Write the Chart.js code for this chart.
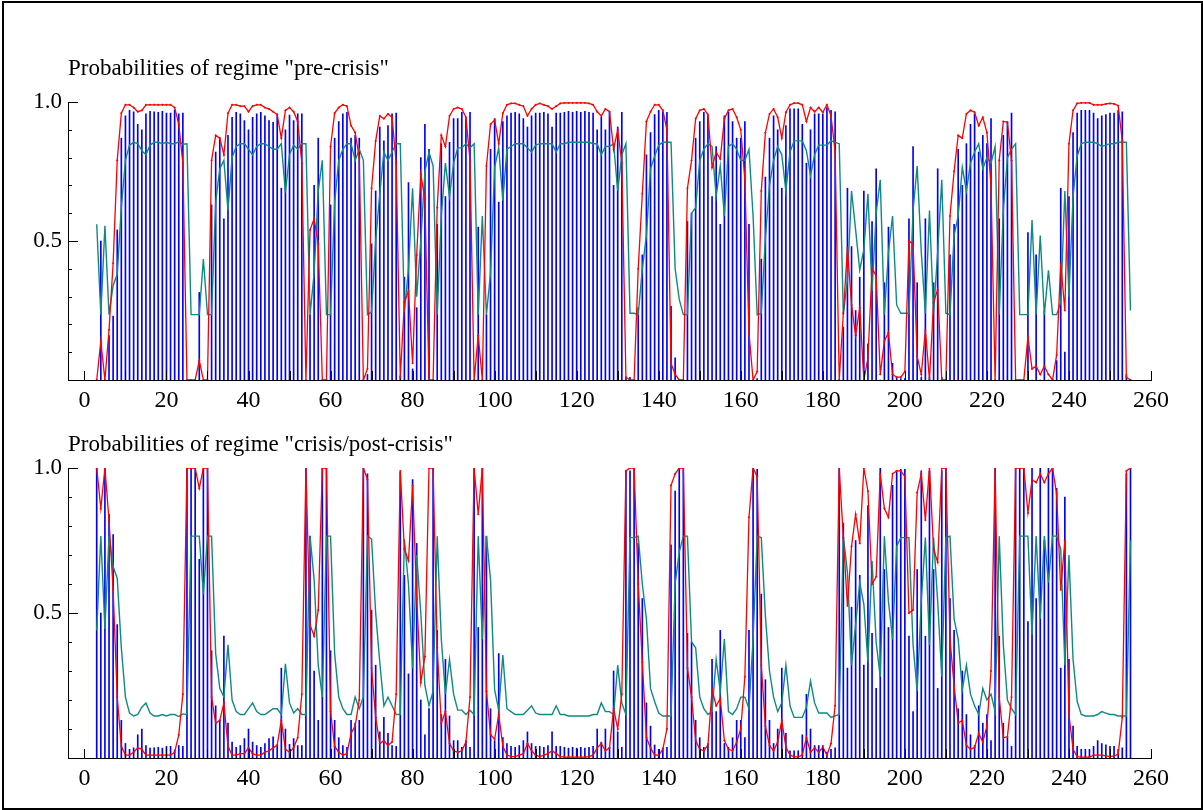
<!DOCTYPE html>
<html>
<head>
<meta charset="utf-8">
<script src="https://cdn.jsdelivr.net/npm/chart.js@4.4.1/dist/chart.umd.min.js"></script>
<style>
  html, body { margin: 0; padding: 0; background: #fff; }
  #frame { position: absolute; left: 2px; top: 1px; width: 1197px; height: 805px; border: 2px solid #000; }
  canvas { position: absolute; left: 0; }
</style>
</head>
<body>
<canvas id="preCrisis" width="1203" height="420" style="top:0px"></canvas>
<canvas id="postCrisis" width="1203" height="390" style="top:420px"></canvas>
<div id="frame"></div>
<script>
// observations 3..255
const obs = Array.from({ length: 253 }, (_, i) => i + 3);

const xTickStep = 20;
const yTickLabels = ["0.5", "1.0"];

const titlePre = 'Probabilities of regime "pre-crisis"';
const titlePost = 'Probabilities of regime "crisis/post-crisis"';

// regime "pre-crisis"
const smoothedPre = [
  0.00, 0.14, 0.00, 0.18, 0.42, 0.79, 0.96, 0.99, 0.99, 0.98,
  0.965, 0.97, 0.99, 0.99, 0.99, 0.99, 0.99, 0.99, 0.99, 0.98,
  0.92, 0.78, 0.00, 0.00, 0.00, 0.07, 0.00, 0.00, 0.79, 0.88,
  0.87, 0.81, 0.96, 0.99, 0.99, 0.985, 0.985, 0.965, 0.985, 0.99,
  0.99, 0.98, 0.975, 0.965, 0.955, 0.87, 0.97, 0.98, 0.965, 0.93,
  0.78, 0.00, 0.54, 0.58, 0.49, 0.00, 0.00, 0.84, 0.96, 0.98,
  0.99, 0.985, 0.915, 0.89, 0.80, 0.00, 0.04, 0.69, 0.86, 0.95,
  0.94, 0.957, 0.945, 0.78, 0.01, 0.28, 0.32, 0.06, 0.45, 0.74,
  0.65, 0.00, 0.00, 0.62, 0.88, 0.84, 0.95, 0.975, 0.98, 0.975,
  0.945, 0.79, 0.00, 0.16, 0.00, 0.77, 0.92, 0.935, 0.85, 0.96,
  0.99, 0.995, 0.995, 0.99, 0.985, 0.95, 0.975, 0.99, 0.995, 0.99,
  0.985, 0.975, 0.985, 0.995, 0.997, 0.997, 0.997, 0.997, 0.997, 0.997,
  0.995, 0.99, 0.965, 0.95, 0.975, 0.965, 0.83, 0.90, 0.78, 0.01,
  0.00, 0.00, 0.40, 0.67, 0.93, 0.965, 0.99, 0.99, 0.97, 0.90,
  0.06, 0.02, 0.00, 0.00, 0.69, 0.79, 0.94, 0.97, 0.975, 0.955,
  0.765, 0.82, 0.795, 0.94, 0.97, 0.975, 0.945, 0.90, 0.72, 0.17,
  0.00, 0.03, 0.68, 0.89, 0.957, 0.975, 0.945, 0.87, 0.963, 0.99,
  0.996, 0.996, 0.99, 0.93, 0.98, 0.965, 0.98, 0.963, 0.99, 0.95,
  0.82, 0.00, 0.24, 0.475, 0.27, 0.16, 0.26, 0.00, 0.08, 0.40,
  0.375, 0.02, 0.14, 0.17, 0.02, 0.01, 0.01, 0.03, 0.50, 0.49,
  0.085, 0.02, 0.18, 0.00, 0.28, 0.325, 0.00, 0.00, 0.59, 0.75,
  0.88, 0.87, 0.957, 0.97, 0.963, 0.915, 0.945, 0.89, 0.70, 0.00,
  0.79, 0.93, 0.927, 0.79, 0.00, 0.00, 0.00, 0.155, 0.04, 0.05,
  0.02, 0.05, 0.02, 0.00, 0.09, 0.42, 0.25, 0.85, 0.97, 0.995,
  0.997, 0.997, 0.997, 0.99, 0.99, 0.99, 0.993, 0.995, 0.993, 0.987,
  0.86, 0.01, 0.00
];
const predictedPre = [
  0.56, 0.235, 0.555, 0.235, 0.34, 0.38, 0.62, 0.79, 0.845, 0.855,
  0.85, 0.825, 0.81, 0.845, 0.855, 0.855, 0.85, 0.855, 0.85, 0.85,
  0.857, 0.848, 0.85, 0.235, 0.235, 0.235, 0.435, 0.235, 0.235, 0.64,
  0.76, 0.79, 0.61, 0.80, 0.84, 0.85, 0.85, 0.83, 0.81, 0.84,
  0.85, 0.85, 0.84, 0.83, 0.83, 0.85, 0.675, 0.81, 0.845, 0.83,
  0.85, 0.85, 0.235, 0.385, 0.68, 0.79, 0.235, 0.235, 0.64, 0.79,
  0.83, 0.85, 0.85, 0.79, 0.83, 0.79, 0.235, 0.245, 0.50, 0.67,
  0.82, 0.79, 0.82, 0.85, 0.85, 0.245, 0.40, 0.69, 0.30, 0.50,
  0.75, 0.82, 0.77, 0.235, 0.59, 0.78, 0.66, 0.78, 0.835, 0.835,
  0.85, 0.835, 0.85, 0.235, 0.59, 0.235, 0.385, 0.765, 0.835, 0.645,
  0.83, 0.84, 0.85, 0.85, 0.85, 0.835, 0.82, 0.845, 0.85, 0.85,
  0.85, 0.85, 0.82, 0.85, 0.85, 0.855, 0.855, 0.855, 0.855, 0.855,
  0.855, 0.85, 0.85, 0.81, 0.84, 0.84, 0.85, 0.68, 0.81, 0.85,
  0.24, 0.24, 0.235, 0.40, 0.52, 0.76, 0.805, 0.845, 0.855, 0.855,
  0.855, 0.40, 0.29, 0.235, 0.235, 0.60, 0.62, 0.79, 0.83, 0.85,
  0.84, 0.66, 0.77, 0.59, 0.84, 0.85, 0.83, 0.79, 0.79, 0.83,
  0.59, 0.235, 0.24, 0.51, 0.70, 0.79, 0.84, 0.81, 0.68, 0.82,
  0.86, 0.86, 0.86, 0.825, 0.735, 0.81, 0.845, 0.845, 0.845, 0.86,
  0.855, 0.85, 0.235, 0.36, 0.68, 0.54, 0.395, 0.47, 0.67, 0.32,
  0.60, 0.72, 0.235, 0.46, 0.59, 0.27, 0.24, 0.24, 0.24, 0.61,
  0.77, 0.46, 0.24, 0.61, 0.24, 0.46, 0.72, 0.24, 0.235, 0.52,
  0.59, 0.765, 0.68, 0.78, 0.82, 0.85, 0.76, 0.80, 0.78, 0.84,
  0.235, 0.61, 0.80, 0.83, 0.85, 0.235, 0.235, 0.235, 0.575, 0.235,
  0.52, 0.235, 0.395, 0.235, 0.235, 0.28, 0.68, 0.30, 0.66, 0.805,
  0.85, 0.855, 0.855, 0.855, 0.85, 0.84, 0.845, 0.85, 0.85, 0.855,
  0.855, 0.855, 0.25
];
const filteredPre = [
  0.00, 0.50, 0.00, 0.16, 0.23, 0.54, 0.87, 0.95, 0.97, 0.965,
  0.92, 0.90, 0.957, 0.966, 0.965, 0.963, 0.966, 0.96, 0.96, 0.972,
  0.957, 0.96, 0.00, 0.00, 0.00, 0.315, 0.00, 0.00, 0.63, 0.82,
  0.87, 0.58, 0.88, 0.945, 0.963, 0.957, 0.933, 0.90, 0.945, 0.957,
  0.963, 0.95, 0.933, 0.927, 0.957, 0.69, 0.90, 0.953, 0.933, 0.957,
  0.957, 0.00, 0.235, 0.70, 0.87, 0.00, 0.00, 0.63, 0.87, 0.93,
  0.957, 0.963, 0.87, 0.88, 0.87, 0.00, 0.02, 0.49, 0.68, 0.91,
  0.86, 0.915, 0.957, 0.96, 0.015, 0.37, 0.71, 0.04, 0.26, 0.80,
  0.92, 0.83, 0.00, 0.56, 0.85, 0.66, 0.855, 0.94, 0.94, 0.963,
  0.94, 0.963, 0.00, 0.55, 0.00, 0.235, 0.83, 0.94, 0.64, 0.93,
  0.95, 0.96, 0.963, 0.957, 0.94, 0.91, 0.95, 0.96, 0.96, 0.963,
  0.957, 0.91, 0.96, 0.96, 0.963, 0.966, 0.963, 0.966, 0.963, 0.966,
  0.963, 0.96, 0.90, 0.945, 0.90, 0.963, 0.70, 0.91, 0.963, 0.01,
  0.01, 0.00, 0.26, 0.45, 0.81, 0.89, 0.955, 0.97, 0.965, 0.963,
  0.265, 0.08, 0.00, 0.00, 0.57, 0.60, 0.87, 0.93, 0.963, 0.95,
  0.66, 0.84, 0.56, 0.95, 0.963, 0.93, 0.87, 0.87, 0.93, 0.56,
  0.00, 0.005, 0.435, 0.73, 0.87, 0.95, 0.90, 0.69, 0.915, 0.975,
  0.975, 0.975, 0.92, 0.78, 0.90, 0.957, 0.957, 0.957, 0.98, 0.97,
  0.965, 0.00, 0.19, 0.69, 0.48, 0.25, 0.37, 0.68, 0.13, 0.57,
  0.76, 0.00, 0.35, 0.55, 0.06, 0.01, 0.005, 0.005, 0.58, 0.84,
  0.35, 0.01, 0.58, 0.01, 0.35, 0.76, 0.01, 0.00, 0.45, 0.56,
  0.83, 0.70, 0.85, 0.92, 0.957, 0.82, 0.88, 0.85, 0.94, 0.00,
  0.58, 0.88, 0.93, 0.96, 0.00, 0.00, 0.00, 0.53, 0.00, 0.45,
  0.00, 0.25, 0.00, 0.00, 0.07, 0.69, 0.10, 0.66, 0.89, 0.96,
  0.97, 0.97, 0.97, 0.96, 0.94, 0.95, 0.955, 0.96, 0.96, 0.97,
  0.965, 0.02, 0.00
];

// regime "crisis/post-crisis"
const smoothedPost = [
  1.00, 0.86, 1.00, 0.82, 0.58, 0.21, 0.04, 0.01, 0.01, 0.02,
  0.035, 0.03, 0.01, 0.01, 0.01, 0.01, 0.01, 0.01, 0.01, 0.02,
  0.08, 0.22, 1.00, 1.00, 1.00, 0.93, 1.00, 1.00, 0.21, 0.12,
  0.13, 0.19, 0.04, 0.01, 0.01, 0.015, 0.015, 0.035, 0.015, 0.01,
  0.01, 0.02, 0.025, 0.035, 0.045, 0.13, 0.03, 0.02, 0.035, 0.07,
  0.22, 1.00, 0.46, 0.42, 0.51, 1.00, 1.00, 0.16, 0.04, 0.02,
  0.01, 0.015, 0.085, 0.11, 0.20, 1.00, 0.96, 0.31, 0.14, 0.05,
  0.06, 0.043, 0.055, 0.22, 0.99, 0.72, 0.68, 0.94, 0.55, 0.26,
  0.35, 1.00, 1.00, 0.38, 0.12, 0.16, 0.05, 0.025, 0.02, 0.025,
  0.055, 0.21, 1.00, 0.84, 1.00, 0.23, 0.08, 0.065, 0.15, 0.04,
  0.01, 0.005, 0.005, 0.01, 0.015, 0.05, 0.025, 0.01, 0.005, 0.01,
  0.015, 0.025, 0.015, 0.005, 0.003, 0.003, 0.003, 0.003, 0.003, 0.003,
  0.005, 0.01, 0.035, 0.05, 0.025, 0.035, 0.17, 0.10, 0.22, 0.99,
  1.00, 1.00, 0.60, 0.33, 0.07, 0.035, 0.01, 0.01, 0.03, 0.10,
  0.94, 0.98, 1.00, 1.00, 0.31, 0.21, 0.06, 0.03, 0.025, 0.045,
  0.235, 0.18, 0.205, 0.06, 0.03, 0.025, 0.055, 0.10, 0.28, 0.83,
  1.00, 0.97, 0.32, 0.11, 0.043, 0.025, 0.055, 0.13, 0.037, 0.01,
  0.004, 0.004, 0.01, 0.07, 0.02, 0.035, 0.02, 0.037, 0.01, 0.05,
  0.18, 1.00, 0.76, 0.525, 0.73, 0.84, 0.74, 1.00, 0.92, 0.60,
  0.625, 0.98, 0.86, 0.83, 0.98, 0.99, 0.99, 0.97, 0.50, 0.51,
  0.915, 0.98, 0.82, 1.00, 0.72, 0.675, 1.00, 1.00, 0.41, 0.25,
  0.12, 0.13, 0.043, 0.03, 0.037, 0.085, 0.055, 0.11, 0.30, 1.00,
  0.21, 0.07, 0.073, 0.21, 1.00, 1.00, 1.00, 0.845, 0.96, 0.95,
  0.98, 0.95, 0.98, 1.00, 0.91, 0.58, 0.75, 0.15, 0.03, 0.005,
  0.003, 0.003, 0.003, 0.01, 0.01, 0.01, 0.007, 0.005, 0.007, 0.013,
  0.14, 0.99, 1.00
];
const predictedPost = [
  0.44, 0.765, 0.445, 0.765, 0.66, 0.62, 0.38, 0.21, 0.155, 0.145,
  0.15, 0.175, 0.19, 0.155, 0.145, 0.145, 0.15, 0.145, 0.15, 0.15,
  0.143, 0.152, 0.15, 0.765, 0.765, 0.765, 0.565, 0.765, 0.765, 0.36,
  0.24, 0.21, 0.39, 0.20, 0.16, 0.15, 0.15, 0.17, 0.19, 0.16,
  0.15, 0.15, 0.16, 0.17, 0.17, 0.15, 0.325, 0.19, 0.155, 0.17,
  0.15, 0.15, 0.765, 0.615, 0.32, 0.21, 0.765, 0.765, 0.36, 0.21,
  0.17, 0.15, 0.15, 0.21, 0.17, 0.21, 0.765, 0.755, 0.50, 0.33,
  0.18, 0.21, 0.18, 0.15, 0.15, 0.755, 0.60, 0.31, 0.70, 0.50,
  0.25, 0.18, 0.23, 0.765, 0.41, 0.22, 0.34, 0.22, 0.165, 0.165,
  0.15, 0.165, 0.15, 0.765, 0.41, 0.765, 0.615, 0.235, 0.165, 0.355,
  0.17, 0.16, 0.15, 0.15, 0.15, 0.165, 0.18, 0.155, 0.15, 0.15,
  0.15, 0.15, 0.18, 0.15, 0.15, 0.145, 0.145, 0.145, 0.145, 0.145,
  0.145, 0.15, 0.15, 0.19, 0.16, 0.16, 0.15, 0.32, 0.19, 0.15,
  0.76, 0.76, 0.765, 0.60, 0.48, 0.24, 0.195, 0.155, 0.145, 0.145,
  0.145, 0.60, 0.71, 0.765, 0.765, 0.40, 0.38, 0.21, 0.17, 0.15,
  0.16, 0.34, 0.23, 0.41, 0.16, 0.15, 0.17, 0.21, 0.21, 0.17,
  0.41, 0.765, 0.76, 0.49, 0.30, 0.21, 0.16, 0.19, 0.32, 0.18,
  0.14, 0.14, 0.14, 0.175, 0.265, 0.19, 0.155, 0.155, 0.155, 0.14,
  0.145, 0.15, 0.765, 0.64, 0.32, 0.46, 0.605, 0.53, 0.33, 0.68,
  0.40, 0.28, 0.765, 0.54, 0.41, 0.73, 0.76, 0.76, 0.76, 0.39,
  0.23, 0.54, 0.76, 0.39, 0.76, 0.54, 0.28, 0.76, 0.765, 0.48,
  0.41, 0.235, 0.32, 0.22, 0.18, 0.15, 0.24, 0.20, 0.22, 0.16,
  0.765, 0.39, 0.20, 0.17, 0.15, 0.765, 0.765, 0.765, 0.425, 0.765,
  0.48, 0.765, 0.605, 0.765, 0.765, 0.72, 0.32, 0.70, 0.34, 0.195,
  0.15, 0.145, 0.145, 0.145, 0.15, 0.16, 0.155, 0.15, 0.15, 0.145,
  0.145, 0.145, 0.75
];
const filteredPost = [
  1.00, 0.50, 1.00, 0.84, 0.77, 0.46, 0.13, 0.05, 0.03, 0.035,
  0.08, 0.10, 0.043, 0.034, 0.035, 0.037, 0.034, 0.04, 0.04, 0.028,
  0.043, 0.04, 1.00, 1.00, 1.00, 0.685, 1.00, 1.00, 0.37, 0.18,
  0.13, 0.42, 0.12, 0.055, 0.037, 0.043, 0.067, 0.10, 0.055, 0.043,
  0.037, 0.05, 0.067, 0.073, 0.043, 0.31, 0.10, 0.047, 0.067, 0.043,
  0.043, 1.00, 0.765, 0.30, 0.13, 1.00, 1.00, 0.37, 0.13, 0.07,
  0.043, 0.037, 0.13, 0.12, 0.13, 1.00, 0.98, 0.51, 0.32, 0.09,
  0.14, 0.085, 0.043, 0.04, 0.985, 0.63, 0.29, 0.96, 0.74, 0.20,
  0.08, 0.17, 1.00, 0.44, 0.15, 0.34, 0.145, 0.06, 0.06, 0.037,
  0.06, 0.037, 1.00, 0.45, 1.00, 0.765, 0.17, 0.06, 0.36, 0.07,
  0.05, 0.04, 0.037, 0.043, 0.06, 0.09, 0.05, 0.04, 0.04, 0.037,
  0.043, 0.09, 0.04, 0.04, 0.037, 0.034, 0.037, 0.034, 0.037, 0.034,
  0.037, 0.04, 0.10, 0.055, 0.10, 0.037, 0.30, 0.09, 0.037, 0.99,
  0.99, 1.00, 0.74, 0.55, 0.19, 0.11, 0.045, 0.03, 0.035, 0.037,
  0.735, 0.92, 1.00, 1.00, 0.43, 0.40, 0.13, 0.07, 0.037, 0.05,
  0.34, 0.16, 0.44, 0.05, 0.037, 0.07, 0.13, 0.13, 0.07, 0.44,
  1.00, 0.995, 0.565, 0.27, 0.13, 0.05, 0.10, 0.31, 0.085, 0.025,
  0.025, 0.025, 0.08, 0.22, 0.10, 0.043, 0.043, 0.043, 0.02, 0.03,
  0.035, 1.00, 0.81, 0.31, 0.52, 0.75, 0.63, 0.32, 0.87, 0.43,
  0.24, 1.00, 0.65, 0.45, 0.94, 0.99, 0.995, 0.995, 0.42, 0.16,
  0.65, 0.99, 0.42, 0.99, 0.65, 0.24, 0.99, 1.00, 0.55, 0.44,
  0.17, 0.30, 0.15, 0.08, 0.043, 0.18, 0.12, 0.15, 0.06, 1.00,
  0.42, 0.12, 0.07, 0.04, 1.00, 1.00, 1.00, 0.47, 1.00, 0.55,
  1.00, 0.75, 1.00, 1.00, 0.93, 0.31, 0.90, 0.34, 0.11, 0.04,
  0.03, 0.03, 0.03, 0.04, 0.06, 0.05, 0.045, 0.04, 0.04, 0.03,
  0.035, 0.98, 1.00
];

const FONT = "'Liberation Serif', 'Times New Roman', serif";

function toPoints(values) {
  return values.map((v, i) => ({ x: obs[i], y: v }));
}

// ticks drawn inside the plot, like the original
const innerTicks = {
  id: "innerTicks",
  afterDraw(chart) {
    const { ctx, scales } = chart;
    const x = scales.x, y = scales.y;
    ctx.save();
    ctx.strokeStyle = "#000";
    ctx.lineWidth = 1;
    ctx.beginPath();
    for (let v = 0; v <= 260; v += 10) {
      const px = Math.round(x.getPixelForValue(v)) + 0.5;
      ctx.moveTo(px, y.bottom);
      ctx.lineTo(px, y.bottom - 9);
    }
    for (let i = 1; i <= 10; i++) {
      const py = Math.round(y.getPixelForValue(i / 10)) + 0.5;
      const len = i % 5 === 0 ? 10 : 4;
      ctx.moveTo(x.left, py);
      ctx.lineTo(x.left + len, py);
    }
    ctx.stroke();
    ctx.restore();
  },
};

function buildChart(id, title, smoothed, predicted, filtered, titlePad, axisHeight) {
  return new Chart(document.getElementById(id), {
    type: "line",
    data: {
      datasets: [
        {
          label: "smoothed",
          data: toPoints(smoothed),
          borderColor: "#ff0000",
          borderWidth: 1.3,
          pointStyle: "cross",
          pointRadius: 1,
          pointBorderColor: "#ff0000",
          pointBorderWidth: 1,
          tension: 0,
        },
        {
          label: "predicted",
          data: toPoints(predicted),
          borderColor: "#0e8a80",
          borderWidth: 1.4,
          pointRadius: 0,
          tension: 0,
        },
        {
          type: "bar",
          label: "filtered",
          data: toPoints(filtered),
          backgroundColor: "#0000ff",
          borderWidth: 0,
          barThickness: 1,
        },
      ],
    },
    options: {
      responsive: false,
      animation: false,
      events: [],
      layout: { padding: { left: 0, right: 52, top: 0, bottom: 0 } },
      plugins: {
        legend: { display: false },
        tooltip: { enabled: false },
        title: {
          display: true,
          text: title,
          align: "start",
          fullSize: false,
          color: "#000",
          font: { family: FONT, size: 23, weight: "normal", lineHeight: 1.2 },
          padding: titlePad,
        },
      },
      scales: {
        x: {
          type: "linear",
          min: -4,
          max: 260,
          offset: false,
          grid: { display: false, drawTicks: false },
          border: { display: true, color: "#000", width: 1 },
          ticks: {
            stepSize: xTickStep,
            includeBounds: false,
            autoSkip: false,
            maxRotation: 0,
            padding: 6,
            color: "#000",
            font: { family: FONT, size: 24 },
          },
          afterFit(scale) { scale.height = axisHeight; },
        },
        y: {
          min: 0,
          max: 1,
          grid: { display: false, drawTicks: false },
          border: { display: true, color: "#000", width: 1 },
          ticks: {
            stepSize: 0.1,
            autoSkip: false,
            padding: 6,
            color: "#000",
            font: { family: FONT, size: 23 },
            callback: (v) => {
              const s = v.toFixed(1);
              return yTickLabels.includes(s) ? s : "";
            },
          },
          afterFit(scale) { scale.width = 68; },
        },
      },
    },
    plugins: [innerTicks],
  });
}

buildChart("preCrisis", titlePre, smoothedPre, predictedPre, filteredPre, { top: 55, bottom: 19.4 }, 40);
buildChart("postCrisis", titlePost, smoothedPost, predictedPost, filteredPost, { top: 11.2, bottom: 9.2 }, 52);
</script>
</body>
</html>
